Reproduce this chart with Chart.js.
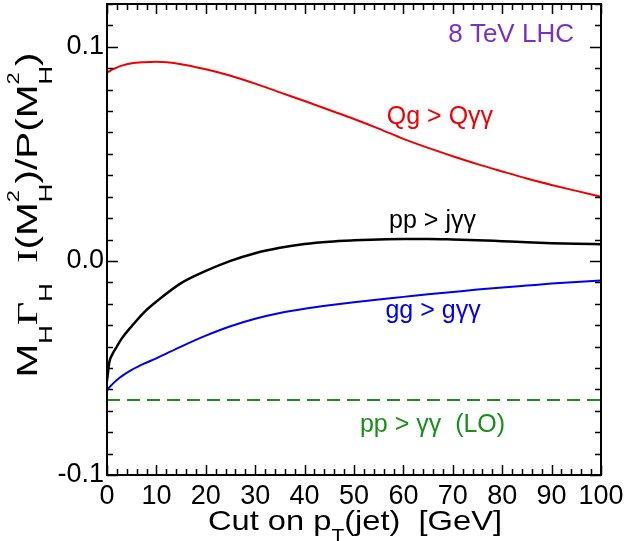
<!DOCTYPE html>
<html>
<head>
<meta charset="utf-8">
<script src="https://cdn.jsdelivr.net/npm/chart.js@4"></script>
<style>
  html, body { margin: 0; padding: 0; background: #fff; }
  canvas { display: block; }
</style>
</head>
<body>
<canvas id="chart" width="628" height="541"></canvas>
<script>
// jet pT cut values [GeV]
const cutPt = [0, 0.5, 1, 2, 3, 5, 7.5, 10, 15, 20, 25, 30, 35, 40, 45, 50, 55, 60, 65, 70, 75, 80, 85, 90, 95, 100];
// Qg > Qγγ
const qgValues = [0.0880, 0.0886, 0.0893, 0.0903, 0.0912, 0.0923, 0.0928, 0.0930, 0.0919, 0.0895, 0.0865, 0.0828, 0.0787, 0.0747, 0.0705, 0.0663, 0.0618, 0.0570, 0.0528, 0.0489, 0.0452, 0.0418, 0.0385, 0.0355, 0.0327, 0.0300];
// pp > jγγ
const ppjValues = [-0.0560, -0.0470, -0.0440, -0.0400, -0.0362, -0.0305, -0.0240, -0.0190, -0.0104, -0.0047, 0.0000, 0.0036, 0.0061, 0.0079, 0.0090, 0.0096, 0.0100, 0.0102, 0.0102, 0.0100, 0.0097, 0.0092, 0.0087, 0.0083, 0.0080, 0.0078];
// gg > gγγ
const ggValues = [-0.0606, -0.0590, -0.0578, -0.0556, -0.0538, -0.0509, -0.0480, -0.0455, -0.0400, -0.0349, -0.0305, -0.0270, -0.0243, -0.0223, -0.0207, -0.0193, -0.0180, -0.0168, -0.0156, -0.0145, -0.0134, -0.0124, -0.0115, -0.0106, -0.0098, -0.0092];
// pp > γγ (LO), flat
const loCut = [0, 100];
const loValues = [-0.065, -0.065];

const xTickValues = [0, 10, 20, 30, 40, 50, 60, 70, 80, 90, 100];
const yTickValues = [-0.1, 0.0, 0.1];
const yTickLabels = ['-0.1', '0.0', '0.1'];

// curve labels: [text, x, y, colour]
const curveLabels = [
    ['8 TeV LHC', 81.8, 0.1023, '#7b2fc9'],
    ['Qg > Q\u03b3\u03b3', 67.4, 0.0640, '#f00000'],
    ['pp > j\u03b3\u03b3', 65.9, 0.0154, '#000000'],
    ['gg > g\u03b3\u03b3', 66.0, -0.0266, '#0000f0'],
    ['pp > \u03b3\u03b3  (LO)', 65.9, -0.0799, '#1a8f1a']
];

const SANS = '"Liberation Sans", Arial, sans-serif';
const SERIF = '"Liberation Serif", "Times New Roman", serif';

function toPoints(xs, ys) {
    return xs.map((x, i) => ({ x: x, y: ys[i] }));
}

// pieces of a title: text, font, baseline shift; stacked pieces do not advance
function drawRun(ctx, pieces, x0) {
    let x = x0;
    pieces.forEach(p => {
        ctx.font = p.font;
        ctx.fillText(p.text, x, p.dy || 0);
        if (!p.stack) x += ctx.measureText(p.text).width;
    });
}
function runWidth(ctx, pieces) {
    let w = 0;
    pieces.forEach(p => {
        ctx.font = p.font;
        if (!p.stack) w += ctx.measureText(p.text).width;
    });
    return w;
}
// draw centred at origin, stretched along the text to a given length
function drawStretched(ctx, pieces, length) {
    const w = runWidth(ctx, pieces);
    ctx.scale(length / w, 1);
    drawRun(ctx, pieces, -w / 2);
}

const frameTicks = {
    id: 'frameTicks',
    afterDatasetsDraw(chart) {
        const { ctx, chartArea: a, scales } = chart;
        const xs = scales.x, ys = scales.y;
        ctx.save();
        ctx.strokeStyle = '#000';
        ctx.lineWidth = 2;
        ctx.strokeRect(a.left, a.top, a.right - a.left, a.bottom - a.top);
        ctx.lineWidth = 1.5;
        ctx.beginPath();
        for (let v = 0; v <= 100; v += 2) {
            const px = Math.round(xs.getPixelForValue(v)) + 0.5;
            const len = v % 10 === 0 ? 10 : 6;
            ctx.moveTo(px, a.bottom); ctx.lineTo(px, a.bottom - len);
            ctx.moveTo(px, a.top); ctx.lineTo(px, a.top + len);
        }
        for (let k = -10; k <= 12; k++) {
            const py = Math.round(ys.getPixelForValue(k / 100)) + 0.5;
            const len = k % 10 === 0 ? 11 : 6;
            ctx.moveTo(a.left, py); ctx.lineTo(a.left + len, py);
            ctx.moveTo(a.right, py); ctx.lineTo(a.right - len, py);
        }
        ctx.stroke();

        // curve labels
        ctx.textAlign = 'center';
        ctx.textBaseline = 'alphabetic';
        curveLabels.forEach(([t, x, y, c], i) => {
            ctx.font = (i === 0 ? '26px ' : '25px ') + SANS;
            ctx.fillStyle = c;
            ctx.fillText(t, xs.getPixelForValue(x), ys.getPixelForValue(y));
        });

        // x axis title
        ctx.fillStyle = '#000';
        ctx.textAlign = 'left';
        const xt = [
            { text: 'Cut on p', font: '28px ' + SANS },
            { text: 'T', font: '18px ' + SANS, dy: 12 },
            { text: '(jet)  [GeV]', font: '28px ' + SANS }
        ];
        ctx.save();
        ctx.translate(355, 530);
        drawStretched(ctx, xt, 294);
        ctx.restore();

        // y axis title (rotated)
        const big = '30px ' + SANS, bigSerif = '30px ' + SERIF, sub = '19px ' + SANS, sup = '16px ' + SANS;
        const yt = [
            { text: 'M', font: big },
            { text: 'H', font: sub, dy: 15 },
            { text: '\u0393', font: bigSerif },
            { text: 'H', font: sub, dy: 15 },
            { text: '  I', font: bigSerif },
            { text: '(M', font: big },
            { text: '2', font: sup, dy: -18, stack: true },
            { text: 'H', font: sub, dy: 15 },
            { text: ')/P(M', font: big },
            { text: '2', font: sup, dy: -18, stack: true },
            { text: 'H', font: sub, dy: 15 },
            { text: ')', font: big }
        ];
        ctx.save();
        ctx.translate(37, 215);
        ctx.rotate(-Math.PI / 2);
        drawStretched(ctx, yt, 325);
        ctx.restore();
        ctx.restore();
    }
};

const lineStyle = { pointRadius: 0, borderWidth: 2, fill: false, cubicInterpolationMode: 'monotone' };

new Chart(document.getElementById('chart'), {
    type: 'line',
    data: {
        datasets: [
            { label: 'Qg > Q\u03b3\u03b3', data: toPoints(cutPt, qgValues), borderColor: '#f00000', ...lineStyle },
            { label: 'pp > j\u03b3\u03b3', data: toPoints(cutPt, ppjValues), borderColor: '#000000', ...lineStyle, borderWidth: 2.5 },
            { label: 'gg > g\u03b3\u03b3', data: toPoints(cutPt, ggValues), borderColor: '#0000f0', ...lineStyle },
            { label: 'pp > \u03b3\u03b3 (LO)', data: toPoints(loCut, loValues), borderColor: '#1a8f1a', ...lineStyle, borderDash: [13, 7] }
        ]
    },
    options: {
        responsive: false,
        animation: false,
        layout: { padding: { top: 4, right: 27, left: 0, bottom: 0 } },
        plugins: { legend: { display: false }, tooltip: { enabled: false } },
        scales: {
            x: {
                type: 'linear', min: 0, max: 100,
                grid: { display: false, drawTicks: false },
                border: { display: false },
                afterBuildTicks: s => { s.ticks = xTickValues.map(v => ({ value: v })); },
                afterFit: s => { s.height = 66; s.paddingLeft = 0; s.paddingRight = 0; },
                ticks: { color: '#000', padding: 5, maxRotation: 0, font: { family: SANS, size: 27 }, callback: v => String(v) }
            },
            y: {
                type: 'linear', min: -0.1, max: 0.12,
                grid: { display: false, drawTicks: false },
                border: { display: false },
                afterBuildTicks: s => { s.ticks = yTickValues.map(v => ({ value: v })); },
                afterFit: s => { s.width = 107; s.paddingTop = 0; s.paddingBottom = 0; },
                ticks: { color: '#000', padding: 3, font: { family: SANS, size: 27 },
                    callback: v => yTickLabels[yTickValues.findIndex(t => Math.abs(t - v) < 1e-9)] }
            }
        }
    },
    plugins: [frameTicks]
});
</script>
</body>
</html>
